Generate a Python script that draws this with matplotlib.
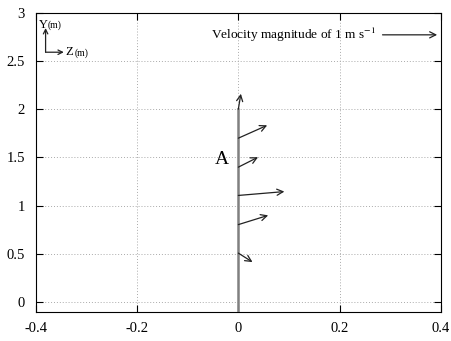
import matplotlib.pyplot as plt

# velocity vectors along the line z=0 (origin height y, components dz, dy)
y0 = [0.51, 0.805, 1.107, 1.40, 1.70, 2.00]
dz = [0.028, 0.059, 0.091, 0.039, 0.057, 0.005]
dy = [-0.093, 0.096, 0.040, 0.103, 0.133, 0.16]

line_top = 2.00
xticks = [-0.4, -0.2, 0, 0.2, 0.4]
yticks = [0, 0.5, 1, 1.5, 2, 2.5, 3]

plt.rcParams['font.family'] = ['Liberation Serif', 'DejaVu Serif']
plt.rcParams['mathtext.fontset'] = 'stix'

fig = plt.figure(figsize=(4.52, 3.41), dpi=100)
ax = fig.add_axes([0.0796, 0.085, 0.8954, 0.878])

ax.set_xlim(-0.4, 0.4)
ax.set_ylim(-0.1, 3)
ax.set_xticks(xticks)
ax.set_xticklabels(["-0.4", "-0.2", "0", "0.2", "0.4"])
ax.set_yticks(yticks)
ax.set_yticklabels(["0", "0.5", "1", "1.5", "2", "2.5", "3"])
ax.tick_params(direction='in', top=True, right=True, labelsize=10.5, length=5)
ax.tick_params(axis='x', pad=7)
ax.tick_params(axis='y', pad=8)
ax.grid(True, ls=(0, (1, 2)), color='#aaaaaa', lw=0.7)

# the wall / profile line
ax.plot([0, 0], [-0.1, line_top], color='#808080', lw=1.8, zorder=3)

for y, u, v in zip(y0, dz, dy):
    ax.annotate("", xy=(u, y + v), xytext=(0, y),
                arrowprops=dict(arrowstyle='->', color='#222222', lw=0.9,
                                shrinkA=0, shrinkB=0, mutation_scale=11),
                zorder=4)

ax.text(-0.032, 1.48, "A", fontsize=14, ha='center', va='center')

# reference arrow
ax.text(0.272, 2.77, r"Velocity magnitude of 1 m s$^{-1}$", fontsize=9.6,
        ha='right', va='center')
ax.annotate("", xy=(0.393, 2.77), xytext=(0.285, 2.77),
            arrowprops=dict(arrowstyle='->', color='#222222', lw=0.9,
                            shrinkA=0, shrinkB=0, mutation_scale=11))

# axes orientation key
ax.annotate("", xy=(-0.381, 2.84), xytext=(-0.381, 2.59),
            arrowprops=dict(arrowstyle='->', color='#222222', lw=0.9,
                            shrinkA=0, shrinkB=0, mutation_scale=8))
ax.annotate("", xy=(-0.345, 2.59), xytext=(-0.381, 2.59),
            arrowprops=dict(arrowstyle='->', color='#222222', lw=0.9,
                            shrinkA=0, shrinkB=0, mutation_scale=8))
ax.text(-0.395, 2.87, "Y", fontsize=9, ha='left', va='center')
ax.text(-0.377, 2.865, "(m)", fontsize=7, ha='left', va='center')
ax.text(-0.342, 2.59, "Z", fontsize=9, ha='left', va='center')
ax.text(-0.323, 2.585, "(m)", fontsize=7, ha='left', va='center')

fig.savefig("out.png", dpi=100)
